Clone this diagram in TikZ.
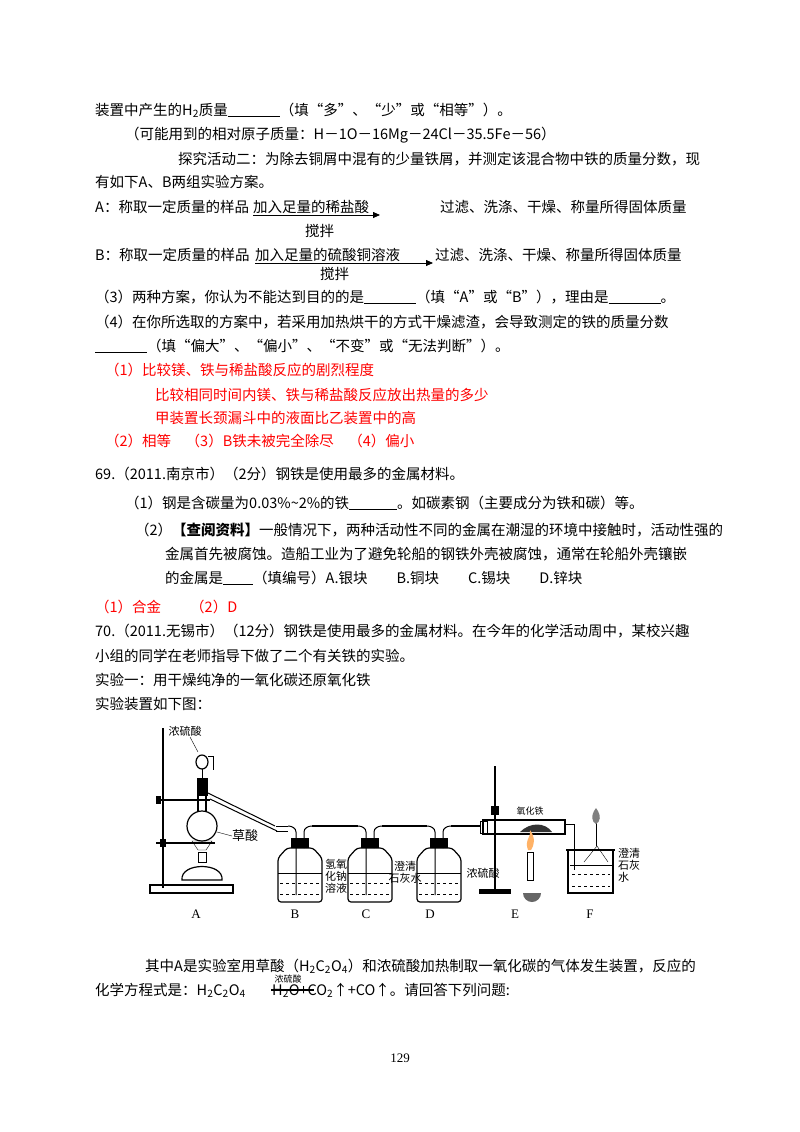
\documentclass[tikz,border=0pt]{standalone}
\usepackage{fontspec}
\setmainfont{Noto Sans CJK SC}
\newfontfamily\tm{Liberation Serif}
\usetikzlibrary{arrows.meta}
\begin{document}
\begin{tikzpicture}[x=1pt,y=-1pt,
  tl/.style={anchor=base west,inner sep=0pt,font=\fontsize{14.5}{16}\selectfont},
  rd/.style={tl,text=red},
  sm/.style={inner sep=0pt,font=\fontsize{11}{12}\selectfont},
  lb/.style={inner sep=0pt,font=\tm\fontsize{13}{14}\selectfont},
  gl/.style={line width=1.2pt},
  liq/.style={dashed,line width=0.8pt}]
\useasboundingbox[fill=white] (0,0) rectangle (800,1132);
\node[tl] (l1) at (95,115) {装置中产生的H\textsubscript{2}质量\underline{\hspace{52pt}}（填“多”、“少”或“相等”）。};
\node[tl] (l2) at (125,139) {（可能用到的相对原子质量：H－1O－16Mg－24Cl－35.5Fe－56）};
\node[tl] (l3) at (178,164) {探究活动二：为除去铜屑中混有的少量铁屑，并测定该混合物中铁的质量分数，现};
\node[tl] (l4) at (95,187) {有如下A、B两组实验方案。};
\node[tl] (a1) at (95,212) {A：称取一定质量的样品};
\node[tl] (a2) at (253,212) {加入足量的稀盐酸};
\node[tl] (a3) at (440,212) {过滤、洗涤、干燥、称量所得固体质量};
\node[tl] (a4) at (305,236) {搅拌};
\draw[-{Triangle[length=7pt,width=6pt]},line width=0.8pt] (253,215) -- (380,215);
\node[tl] (b1) at (95,260) {B：称取一定质量的样品};
\node[tl] (b2) at (255,260) {加入足量的硫酸铜溶液};
\node[tl] (b3) at (435,260) {过滤、洗涤、干燥、称量所得固体质量};
\node[tl] (b4) at (320,279) {搅拌};
\draw[-{Triangle[length=7pt,width=6pt]},line width=0.8pt] (255,263) -- (433,263);
\node[tl] (l5) at (95,302) {（3）两种方案，你认为不能达到目的的是\underline{\hspace{52pt}}（填“A”或“B”），理由是\underline{\hspace{52pt}}。};
\node[tl] (l6) at (95,327) {（4）在你所选取的方案中，若采用加热烘干的方式干燥滤渣，会导致测定的铁的质量分数};
\node[tl] (l7) at (95,351) {\underline{\hspace{52pt}}（填“偏大”、“偏小”、“不变”或“无法判断”）。};
\node[rd] (r1) at (105,375) {（1）比较镁、铁与稀盐酸反应的剧烈程度};
\node[rd] (r2) at (155,400) {比较相同时间内镁、铁与稀盐酸反应放出热量的多少};
\node[rd] (r3) at (155,423) {甲装置长颈漏斗中的液面比乙装置中的高};
\node[rd] (r4) at (105,446) {（2）相等\quad（3）B铁未被完全除尽\quad（4）偏小};
\node[tl] (q1) at (95,479) {69.（2011.南京市）（2分）钢铁是使用最多的金属材料。};
\node[tl] (q2) at (125,508) {（1）钢是含碳量为0.03\%\textasciitilde2\%的铁\underline{\hspace{48pt}}。如碳素钢（主要成分为铁和碳）等。};
\node[tl] (q3) at (135,535) {（2）\textbf{【查阅资料】}一般情况下，两种活动性不同的金属在潮湿的环境中接触时，活动性强的};
\node[tl] (q4) at (165,559) {金属首先被腐蚀。造船工业为了避免轮船的钢铁外壳被腐蚀，通常在轮船外壳镶嵌};
\node[tl] (q5) at (165,583) {的金属是\underline{\hspace{30pt}}（填编号）A.银块\qquad B.铜块\qquad C.锡块\qquad D.锌块};
\node[rd] (r5) at (95,612) {（1）合金\qquad（2）D};
\node[tl] (p1) at (95,636) {70.（2011.无锡市）（12分）钢铁是使用最多的金属材料。在今年的化学活动周中，某校兴趣};
\node[tl] (p2) at (95,661) {小组的同学在老师指导下做了二个有关铁的实验。};
\node[tl] (p3) at (95,685) {实验一：用干燥纯净的一氧化碳还原氧化铁};
\node[tl] (p4) at (95,709) {实验装置如下图：};
% ---------- apparatus ----------
% A
\draw[line width=1.5pt] (163,728) -- (163,888);
\draw[line width=1.2pt] (150,885) rectangle (233,893);
\node[sm] (cn) at (185,731) {浓硫酸};
\draw (190,737) -- (198,752);
\draw[gl] (202,826) circle (15);
\draw[gl] (198,812) -- (198,790) (206,812) -- (206,790);
\fill (197,778) rectangle (208,796);
\draw[gl] (202,762) ellipse (6 and 7);
\draw (202,769) -- (202,778) (208,756) -- (213,756) -- (213,770);
\draw[line width=2.5pt] (156,800) -- (210,800);
\draw[line width=2.5pt] (156,843) -- (215,843);
\fill (156,796) rectangle (161,804);
\fill (160,839) rectangle (166,847);
\draw (192,841) -- (212,841) -- (206,850) -- (198,850) -- cycle;
\draw (198,852) rectangle (206,862);
\draw[gl] (182,880) .. controls (180,862) and (224,862) .. (222,880) -- cycle;
\node[sm] (cs) at (245,836) {\fontsize{13}{14}\selectfont 草酸};
\draw (217,832) -- (232,836);
\draw[line width=1pt] (208,793) -- (275,826) (210,799) -- (277,831);
% bottles
\foreach \cx/\nm in {300/B,370/C,439/D}{
  \draw[gl,rounded corners=3pt] (\cx-22,902) -- (\cx-22,858) -- (\cx-13,848) -- (\cx+13,848) -- (\cx+22,858) -- (\cx+22,902) -- cycle;
  \fill (\cx-9,838) rectangle (\cx+9,848);
  \draw[line width=0.8pt] (\cx-22,873) -- (\cx+22,873);
  \draw[liq] (\cx-20,883) -- (\cx+20,883) (\cx-20,894) -- (\cx+20,894);
  \draw[line width=1pt] (\cx-4,895) -- (\cx-4,832) to[out=90,in=0] (\cx-12,826);
  \draw[line width=1pt] (\cx+4,848) -- (\cx+4,832) to[out=90,in=180] (\cx+12,826);
}
\draw[line width=1pt] (276,826) -- (288,826) (276,831) -- (288,831);
\draw[line width=2.5pt] (312,826) -- (358,826);
\draw[line width=2.5pt] (382,826) -- (427,826);
\draw[line width=2.5pt] (451,826) -- (480,826);
\node[sm,align=center] (bl) at (336,876) {氢氧\\化钠\\溶液};
\node[sm,align=center] (cl) at (405,872) {澄清\\石灰水};
\node[sm] (dl) at (483,873) {浓硫酸};
% E
\draw[line width=1.5pt] (495,766) -- (495,891);
\fill (479,889) rectangle (511,894);
\fill (491,806) rectangle (499,815);
\draw[gl] (483,820) rectangle (565,834);
\draw (480,821) rectangle (487,833);
\fill[black!80] (520,832) .. controls (530,822) and (545,822) .. (552,832) -- cycle;
\node[sm] (el) at (530,811) {\fontsize{9}{10}\selectfont 氧化铁};
\fill[orange!60] (528,850) .. controls (524,840) and (532,836) .. (530,830) .. controls (536,838) and (534,846) .. (531,850) -- cycle;
\draw (527,852) rectangle (533,880);
\fill[black!60] (531,893) -- (523,893) arc[start angle=180,end angle=0,radius=9] -- cycle;
% F
\draw[line width=1pt] (565,824) -- (574,824) -- (574,870);
\draw[gl] (568,850) -- (568,893) -- (613,893) -- (613,850);
\draw[line width=1.5pt] (566,850) -- (615,850);
\draw (570,865) -- (612,865);
\draw[liq] (572,874) -- (610,874) (572,886) -- (610,886);
\draw (584,862) -- (597,846) -- (608,862);
\draw (596,846) -- (596,820);
\fill[black!50] (596,808) .. controls (590,816) and (592,822) .. (596,824) .. controls (600,822) and (602,816) .. (596,808);
\node[sm,align=left,anchor=north west] (fl) at (618,848) {澄清\\石灰\\水};
\foreach \x/\t in {196/A,295/B,366/C,430/D,515/E,590/F}
  \node[lb] at (\x,914) {\t};
% ---------- text below ----------
\node[tl] (s1) at (145,971) {其中A是实验室用草酸（H\textsubscript{2}C\textsubscript{2}O\textsubscript{4}）和浓硫酸加热制取一氧化碳的气体发生装置，反应的};
\node[tl] (s2) at (95,995) {化学方程式是：H\textsubscript{2}C\textsubscript{2}O\textsubscript{4}};
\node[sm] (s3) at (288,979) {\fontsize{9}{10}\selectfont 浓硫酸};
\node[tl] (s4) at (272,995) {H\textsubscript{2}O+CO\textsubscript{2}↑+CO↑。请回答下列问题:};
\draw[line width=2.2pt] (271,990) -- (314,990);
\node[lb] (pg) at (400,1058) {129};
\end{tikzpicture}
\end{document}
